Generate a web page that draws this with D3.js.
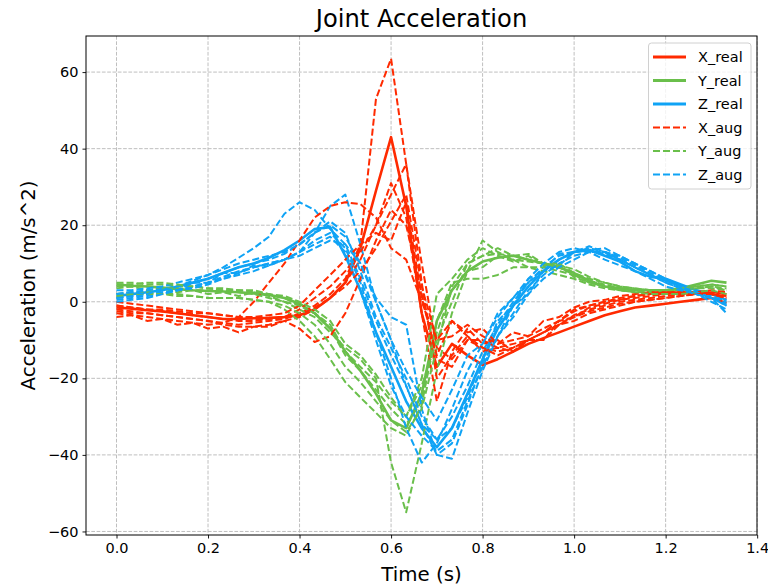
<!DOCTYPE html>
<html>
<head>
<meta charset="utf-8">
<script src="https://cdn.jsdelivr.net/npm/d3@7"></script>
<style>
  body { margin: 0; background: #fff; }
  svg { display: block; }
  text { font-family: "DejaVu Sans", sans-serif; fill: #000; }
</style>
</head>
<body>
<svg id="chart" width="768" height="588"></svg>
<script>
// Sample times (s), 30 Hz
const time = [0.000,0.033,0.067,0.100,0.133,0.167,0.200,0.233,0.267,0.300,
              0.333,0.367,0.400,0.433,0.467,0.500,0.533,0.567,0.600,0.633,
              0.667,0.700,0.733,0.767,0.800,0.833,0.867,0.900,0.933,0.967,
              1.000,1.033,1.067,1.100,1.133,1.167,1.200,1.233,1.267,1.300,1.333];

// Recorded joint acceleration (m/s^2)
const xReal = [-1.5,-1.8,-2.2,-2.5,-3,-3.5,-4,-4.5,-4.5,-4.3,-4.2,-4,-3.5,-2,1,5,14,29,43,25,-3,-17,-11,-14,-16.5,-15,-13,-11,-9.5,-8,-6.5,-5,-3.5,-2.5,-1.5,-1,-0.5,0,0.5,1,-0.3];
const yReal = [4.5,4.2,4,3.7,3.3,3,2.8,2.7,2.5,2.2,1.8,1,-0.5,-3,-7,-13,-18,-24,-31,-33,-24,-5,3,8,10.5,11.5,12,11,10,9,7.5,5.5,4,3.5,3,3,3,3.5,4.5,5.5,5];
const zReal = [1.5,2,2.5,3,4,5,6,7.5,9,10,11.5,13.5,16,19,19.5,12,3,-8,-17,-26,-33,-38,-33,-24,-15,-7,-1,4,8,11,13,13.5,12,10.5,8,6.5,6,4.5,3,2,0.5];

// Augmented copies
const xAug = [
  [-2.5,-3,-3,-3.5,-4,-4.5,-5,-5.5,-6,-5.5,-5,-4.5,-3,-1,2,6,15,53,63.5,36,10,-12,-15,-10,-12,-13,-12,-10,-8,-6,-3.5,-2,-1,0,0.5,1,1.5,2,2,2,1.5],
  [-1,-1.5,-2,-2.5,-3,-3.5,-4,-4.5,-5,-5,-4.5,-4,-2,1,4,8,13,20,28,36,5,-20,-14,-9,-13,-12,-13,-10,-10,-6,-5,-3,-2,-1,0,0.5,1,1.5,2,2.5,2],
  [-2,-2.5,-3,-3.5,-4,-4.5,-5,-6,-6.5,-6.5,-6,-5,-4,-2,1,5,11,20,31,22,-3,-26,-13,-7,-11,-10,-13,-10,-10,-5,-4,-1.5,-0.5,0.5,1,1.5,2,2,2.5,2.5,2],
  [-3,-3.5,-4,-4.5,-5,-5.5,-6,-5.5,-4,0,5,10,16,22,25,26,25.5,22,14,11,0,-10,-9,-6,-9,-11,-10,-9,-7,-5,-2,-1,0,1,1.5,2,2,2.5,2.5,2,1],
  [-4,-3.5,-5,-4.5,-6,-5.5,-7,-6.5,-8,-6.5,-6.5,-5,-7,-10.5,-9,-3,6,16,24,20,2,-15,-17,-10,-10,-12,-11,-10,-8,-5,-2.5,-1,0,0.5,1.5,2,2.5,2.5,2.5,3,2.5],
  [0,-0.5,-1,-1.5,-2,-2.5,-3,-3.5,-4,-4,-3.5,-3,-1,3,7,11,15,18,16,26,1,-14,-5,-8,-7,-11,-8,-9,-5,-4,-1.5,0,0.5,1.5,2,2.5,2.5,2.5,2.5,2,1.5],
  [-1,-1.5,-2,-2,-2.5,-3,-3,-3.5,-4,-4.5,-4.5,-4,-3.5,-1.5,1,4,8,14,21,28,4,-10,-5,-9,-12,-14,-12,-10,-8,-6,-4,-2.5,-1.5,-0.5,0,0.5,1,1.5,2,2,1]
];
const yAug = [
  [3.5,4,3,3.5,2.5,3,2,2.5,1.5,2.5,1.5,0,-2,-4,-8,-12,-15,-20,-42,-55,-37,-18,-3,8,16,13,11,9,8,7,6,4.5,3.5,3,2.5,2.5,3,3,3.5,3.5,3],
  [5,5,4.5,4.5,4,4,3.5,3.5,3,3,2,1,-1,-3,-7,-14,-18,-23,-28,-32,-26,-8,3,8,9,12,10.5,12,9.5,9.5,6.5,5,4,3.5,3,3,3,3.5,4,4.5,4],
  [2,2.5,2.5,2,2,1.5,1,1,1,0.5,0,-2,-5,-9,-15,-21,-25,-29,-33,-35,-27,-5,5,6,6,7,9,9,9,8,7,5.5,4.5,3.5,3,2.5,2.5,3,3.5,4,3],
  [4,4,4,3.5,3.5,3,3,3,3,2.5,2,1.5,0,-2,-5,-11,-14,-19,-25,-30,-22,-10,0,10,12,14,12,12.5,10,10,7.5,6,5,4,3.5,3,3,3,3.5,4,3.5],
  [1.5,2,2,2,1.5,1.5,1,1,1,0.5,0,-1,-3,-6,-11,-17,-21,-26,-31,-34,-28,-12,4,10,12,12.5,12,11,10,9.5,8.5,6.5,5,4,3.5,3,3,3.5,4,4.5,4],
  [4.5,4.5,5,5,4.5,4,3.5,3,2.5,2,1,0,-1,-3,-6,-13,-17,-21,-26,-30,-20,2,6,11,14,12,11,10.5,10,9,7,5,4,3,2.5,2,2,2,2.5,3,2]
];
const zAug = [
  [0.5,1,1.5,2,3,4,5,6.5,8,9,10,11,13,18,25,28,15,0,-10,-22,-32,-36,-30,-22,-13,-6,0,5,9,12,13,13.5,12.5,11,9,7,5.5,4,2,1,-1],
  [1,1.5,2,3,4,5.5,7,9,11.5,14,17,23,26,24,19,15,6,-5,-14,-22,-32,-40,-37,-27,-16,-9,-1,2,8,9.5,13,13.5,14,12,10,8,6,4,2.5,1,-0.5],
  [2,2.5,3,3.5,4,5,6,7.5,9,10,11,12.5,15,18,20,17,10,1,-4,-6,-28,-40,-41,-29,-18,-9,-3,3,7,10,12,13,13,12,10,8,6,4,3,1.5,0],
  [1,1.5,2,2.5,3,4,5,6,7.5,9,10,11,13,16,18,14,5,-8,-20,-33,-42,-37,-28,-18,-11,-4,1,5,8,11,13,14,13,11,9,7,5,3.5,2,0,-2],
  [3,3,3.5,4,5,6,7,8.5,10,11,12,13,15,18,21,18,8,-4,-12,-20,-30,-36,-33,-25,-15,-5,-1,6,8,12.5,13,14.5,13,11,9,7,5,3.5,2,1,-3],
  [0,0.5,1,2,3,3.5,4.5,6,7,8,9.5,11,13,15,17,13,3,-10,-22,-30,-35,-39,-36,-26,-17,-9,-4,2,6,9,11,13,13,11.5,9.5,7.5,5.5,4,2.5,1,-1],
  [2,2.5,2,3.5,3,5,5,7.5,7.5,9.5,9.5,11,12,14,16,15,10,0,-10,-18,-25,-31,-23,-14,-11,-3,1,6,10,13,14,13,11,9.5,8,6,4,3,2,1,0.5]
];

const xTicks = [0, 0.2, 0.4, 0.6, 0.8, 1.0, 1.2, 1.4];
const yTicks = [-60, -40, -20, 0, 20, 40, 60];
const legendNames = ["X_real", "Y_real", "Z_real", "X_aug", "Y_aug", "Z_aug"];
const axisColors = { X: "#ff2a00", Y: "#6abf4b", Z: "#0fa3f5" };

const plot = { left: 86, right: 757, top: 36, bottom: 535 };

const svg = d3.select("#chart");

// Domains padded by 5% of the data span on each side
const tMin = d3.min(time), tMax = d3.max(time);
const tPad = (tMax - tMin) * 0.05;
const allVals = [xReal, yReal, zReal, ...xAug, ...yAug, ...zAug].flat();
const vMin = d3.min(allVals), vMax = d3.max(allVals);
const vPad = (vMax - vMin) * 0.05;

const x = d3.scaleLinear().domain([tMin - tPad, tMax + tPad]).range([plot.left, plot.right]);
const y = d3.scaleLinear().domain([vMin - vPad, vMax + vPad]).range([plot.bottom, plot.top]);

// Grid
const grid = svg.append("g").attr("stroke", "#b8b8b8").attr("stroke-width", 0.9)
  .attr("stroke-dasharray", "3.7,1.6");
grid.selectAll("line.gx").data(xTicks).join("line")
  .attr("x1", d => x(d)).attr("x2", d => x(d))
  .attr("y1", plot.top).attr("y2", plot.bottom);
grid.selectAll("line.gy").data(yTicks).join("line")
  .attr("y1", d => y(d)).attr("y2", d => y(d))
  .attr("x1", plot.left).attr("x2", plot.right);

// Curves: recorded first, then each augmented triple
const line = d3.line().x((d, i) => x(time[i])).y(d => y(d));
const curves = svg.append("g").attr("fill", "none")
  .attr("stroke-linejoin", "round");

[["X", xReal], ["Y", yReal], ["Z", zReal]].forEach(([k, vals]) => {
  curves.append("path").attr("d", line(vals))
    .attr("stroke", axisColors[k]).attr("stroke-width", 2.6);
});
const nAug = Math.max(xAug.length, yAug.length, zAug.length);
for (let j = 0; j < nAug; j++) {
  [["X", xAug[j]], ["Y", yAug[j]], ["Z", zAug[j]]].forEach(([k, vals]) => {
    if (!vals) return;
    curves.append("path").attr("d", line(vals))
      .attr("stroke", axisColors[k]).attr("stroke-width", 2)
      .attr("stroke-dasharray", "7,3");
  });
}

// Axes
const fmtY = d => (d < 0 ? "\u2212" + Math.abs(d) : String(d));
const xAxis = d3.axisBottom(x).tickValues(xTicks).tickFormat(d3.format(".1f"))
  .tickSize(3.5).tickPadding(4);
const yAxis = d3.axisLeft(y).tickValues(yTicks).tickFormat(fmtY)
  .tickSize(3.5).tickPadding(4);

const gx = svg.append("g").attr("transform", `translate(0,${plot.bottom})`).call(xAxis);
const gy = svg.append("g").attr("transform", `translate(${plot.left},0)`).call(yAxis);
[gx, gy].forEach(g => {
  g.select(".domain").remove();
  g.selectAll(".tick line").attr("stroke", "#000").attr("stroke-width", 0.9);
  g.selectAll(".tick text").attr("font-size", 14.5)
    .attr("font-family", "DejaVu Sans, sans-serif").attr("fill", "#000");
});

// Frame
svg.append("rect")
  .attr("x", plot.left).attr("y", plot.top)
  .attr("width", plot.right - plot.left).attr("height", plot.bottom - plot.top)
  .attr("fill", "none").attr("stroke", "#000").attr("stroke-width", 1);

// Titles
svg.append("text").attr("x", (plot.left + plot.right) / 2).attr("y", 27)
  .attr("text-anchor", "middle").attr("font-size", 24.2).text("Joint Acceleration");
svg.append("text").attr("x", (plot.left + plot.right) / 2).attr("y", 581)
  .attr("text-anchor", "middle").attr("font-size", 19.8).text("Time (s)");
svg.append("text")
  .attr("transform", `translate(35,${(plot.top + plot.bottom) / 2}) rotate(-90)`)
  .attr("text-anchor", "middle").attr("font-size", 19.8).text("Acceleration (m/s^2)");

// Legend
const leg = svg.append("g");
leg.append("rect").attr("x", 648.5).attr("y", 43).attr("width", 102.5).attr("height", 146)
  .attr("rx", 3).attr("fill", "#fff").attr("fill-opacity", 0.8)
  .attr("stroke", "#d0d0d0").attr("stroke-width", 1);
const legendItems = legendNames.map((name, i) => ({
  name, color: axisColors[name[0]], dashed: name.endsWith("aug"), row: i
}));
const legRow = leg.selectAll("g.item").data(legendItems).join("g")
  .attr("transform", d => `translate(0,${57 + d.row * 23.5})`);
legRow.append("line").attr("x1", 653).attr("x2", 686).attr("y1", 0).attr("y2", 0)
  .attr("stroke", d => d.color)
  .attr("stroke-width", d => d.dashed ? 2 : 2.8)
  .attr("stroke-dasharray", d => d.dashed ? "7,3" : null);
legRow.append("text").attr("x", 698).attr("y", 0).attr("dy", "0.35em")
  .attr("font-size", 14.5).text(d => d.name);
</script>
</body>
</html>
